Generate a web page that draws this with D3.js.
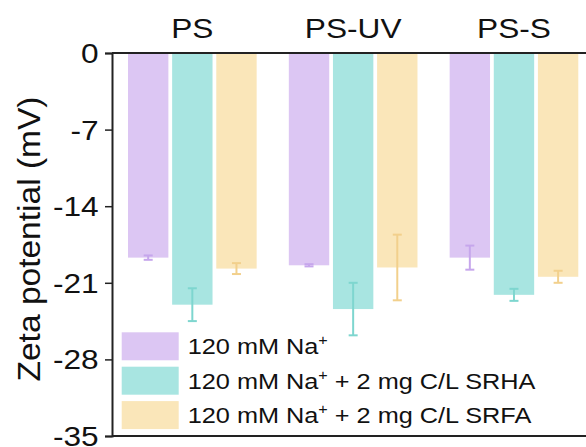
<!DOCTYPE html>
<html>
<head>
<meta charset="utf-8">
<script src="https://cdn.jsdelivr.net/npm/d3@7"></script>
<style>
  html, body { margin: 0; padding: 0; background: #fff; }
  svg text { font-family: "Liberation Sans", Arial, Helvetica, sans-serif; fill: #111; }
</style>
</head>
<body>
<svg id="chart" width="586" height="447"></svg>
<script>
// ---- data ----
const groups = ["PS", "PS-UV", "PS-S"];
const seriesKeys = ["na", "srha", "srfa"];
const seriesLabelMain = ["120 mM Na", "120 mM Na", "120 mM Na"];
const seriesLabelRest = ["", " + 2 mg C/L SRHA", " + 2 mg C/L SRFA"];
const naValues = [-18.7, -19.4, -18.7];
const naErrors = [0.2, 0.1, 1.1];
const srhaValues = [-23.0, -23.4, -22.1];
const srhaErrors = [1.5, 2.4, 0.55];
const srfaValues = [-19.7, -19.6, -20.45];
const srfaErrors = [0.5, 3.0, 0.55];
const yTicks = [0, -7, -14, -21, -28, -35];
const yTickLabels = ["0", "-7", "-14", "-21", "-28", "-35"];

const barColors = ["#dcc6f3", "#a8e5e1", "#fae6b9"];
const errColors = ["#c6a6ec", "#7ed6cf", "#f2d08c"];

const values = [naValues, srhaValues, srfaValues];
const errors = [naErrors, srhaErrors, srfaErrors];

const svg = d3.select("#chart");
const axisX = 112, yTop = 53, yBottom = 436, rightEdge = 586;
const stretch = 1.13;

const y = d3.scaleLinear().domain([-35, 0]).range([yBottom, yTop]);
const x0 = d3.scaleBand().domain(groups).range([128, 578.3]).paddingInner(0.2).paddingOuter(0);
const x1 = d3.scaleBand().domain(seriesKeys).range([0, x0.bandwidth()]).paddingInner(0.085);

// bars
const gBars = svg.append("g");
groups.forEach((grp, gi) => {
  seriesKeys.forEach((key, si) => {
    const v = values[si][gi];
    gBars.append("rect")
      .attr("x", x0(grp) + x1(key))
      .attr("y", y(0))
      .attr("width", x1.bandwidth())
      .attr("height", y(v) - y(0))
      .attr("fill", barColors[si]);
  });
});

// error bars
const gErr = svg.append("g");
const capW = 9;
groups.forEach((grp, gi) => {
  seriesKeys.forEach((key, si) => {
    const v = values[si][gi], e = errors[si][gi];
    const cx = x0(grp) + x1(key) + x1.bandwidth() / 2;
    const c = errColors[si];
    gErr.append("line").attr("x1", cx).attr("x2", cx)
      .attr("y1", y(v + e)).attr("y2", y(v - e))
      .attr("stroke", c).attr("stroke-width", 2);
    [v + e, v - e].forEach(t => {
      gErr.append("line").attr("x1", cx - capW / 2).attr("x2", cx + capW / 2)
        .attr("y1", y(t)).attr("y2", y(t))
        .attr("stroke", c).attr("stroke-width", 2);
    });
  });
});

// frame lines (top and bottom)
svg.append("line").attr("x1", axisX).attr("x2", rightEdge).attr("y1", yTop).attr("y2", yTop)
  .attr("stroke", "#222").attr("stroke-width", 2);
svg.append("line").attr("x1", axisX).attr("x2", rightEdge).attr("y1", yBottom).attr("y2", yBottom)
  .attr("stroke", "#222").attr("stroke-width", 2);

// y axis
const yAxis = d3.axisLeft(y).tickValues(yTicks).tickSize(7).tickPadding(4)
  .tickFormat((d, i) => yTickLabels[i]);
const gY = svg.append("g").attr("transform", `translate(${axisX},0)`).call(yAxis);
gY.select(".domain").attr("stroke", "#222").attr("stroke-width", 2);
gY.selectAll(".tick line").attr("stroke", "#222").attr("stroke-width", 1.5);
gY.selectAll(".tick text")
  .attr("font-size", 28)
  .attr("x", -13.3 / stretch)
  .attr("dy", "0.34em")
  .attr("transform", `scale(${stretch},1)`)
  .style("font-family", "'Liberation Sans', Arial, sans-serif")
  .attr("fill", "#111");

// group titles
groups.forEach(grp => {
  const cx = x0(grp) + x0.bandwidth() / 2;
  svg.append("text")
    .attr("transform", `translate(${cx},38) scale(${stretch},1)`)
    .attr("text-anchor", "middle")
    .attr("font-size", 28)
    .text(grp);
});

// y label
svg.append("text")
  .attr("transform", "translate(40,239) rotate(-90)")
  .attr("text-anchor", "middle")
  .attr("font-size", 31)
  .attr("textLength", 285)
  .attr("lengthAdjust", "spacingAndGlyphs")
  .text("Zeta potential (mV)");

// legend
const legStretch = 1.15;
seriesKeys.forEach((key, si) => {
  const cy = 346.3 + si * 34.4;
  svg.append("rect")
    .attr("x", 121.7).attr("y", cy - 14).attr("width", 57).attr("height", 28)
    .attr("fill", barColors[si]);
  const t = svg.append("text")
    .attr("transform", `translate(187.7,${cy + 8}) scale(${legStretch},1)`)
    .attr("font-size", 22);
  t.append("tspan").text(seriesLabelMain[si]);
  t.append("tspan").attr("font-size", 14).attr("dy", -9).text("+");
  t.append("tspan").attr("dy", 9).text(seriesLabelRest[si]);
});
</script>
</body>
</html>
